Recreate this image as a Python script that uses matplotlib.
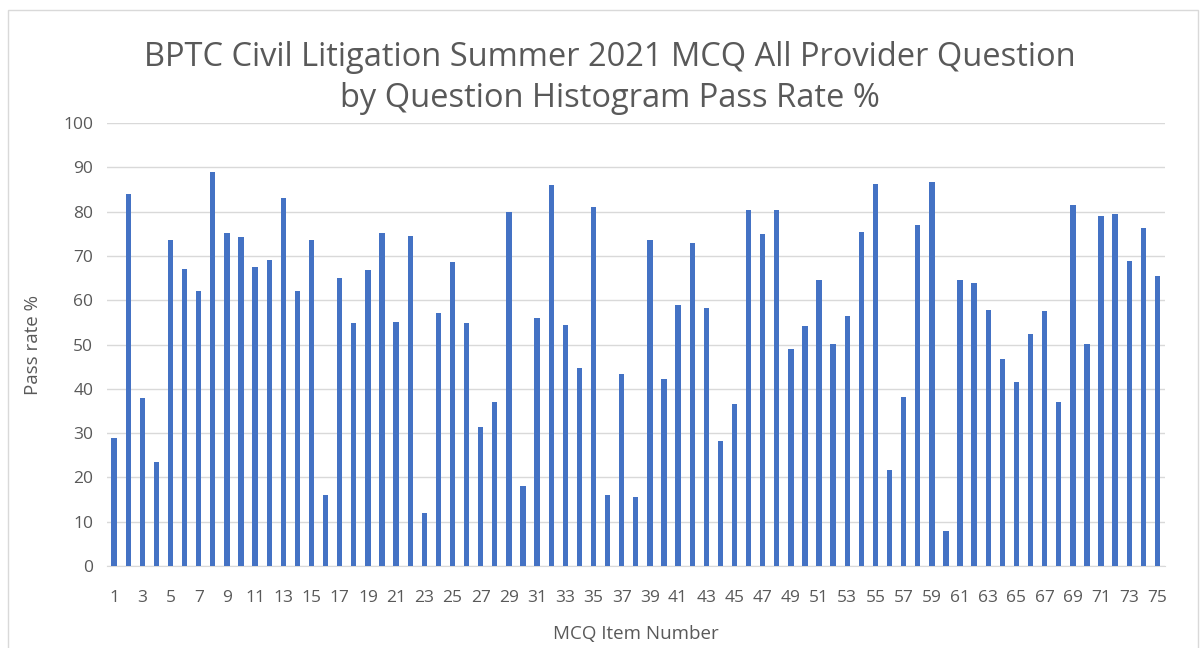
import matplotlib.pyplot as plt
from matplotlib.patches import Rectangle

# pass rate per MCQ item
items = list(range(1, 76))
pass_rate = [29, 84, 38, 23.5, 73.5, 67, 62, 89, 75.3, 74.3,
             67.6, 69.2, 83, 62.2, 73.5, 16, 65, 54.8, 66.8, 75.3,
             55, 74.6, 12, 57.2, 68.6, 54.8, 31.3, 37, 80, 18,
             55.9, 86, 54.4, 44.8, 81, 16, 43.3, 15.6, 73.5, 42.2,
             58.9, 73, 58.3, 28.2, 36.5, 80.3, 74.9, 80.3, 49.1, 54.2,
             64.6, 50.2, 56.5, 75.5, 86.3, 21.6, 38.2, 77, 86.6, 7.8,
             64.6, 64, 57.8, 46.8, 41.5, 52.3, 57.5, 37, 81.5, 50.2,
             79.1, 79.4, 68.8, 76.4, 65.4]
xtick_labels = [str(i) for i in items[::2]]
yticks = list(range(0, 101, 10))

plt.rcParams['font.family'] = ['Open Sans', 'DejaVu Sans']
grey = '#595959'

fig = plt.figure(figsize=(12.03, 6.48), dpi=100)
fig.patches.append(Rectangle((8 / 1203, -0.01), 1190 / 1203, 1 - 10 / 648 + 0.01,
                             transform=fig.transFigure, fill=False,
                             edgecolor='#d9d9d9', lw=1))
ax = fig.add_axes([0.089, 0.1265, 0.879, 0.6835])

ax.bar(items, pass_rate, width=0.38, color='#4472c4', zorder=3)

ax.set_xlim(0.5, 75.5)
ax.set_ylim(0, 100)
ax.set_yticks(yticks)
ax.set_xticks(items[::2])
ax.set_xticklabels(xtick_labels)
ax.grid(axis='y', color='#d9d9d9', lw=1, zorder=0)
ax.tick_params(length=0, labelsize=12.5, colors=grey)
ax.tick_params(axis='x', pad=17)
ax.tick_params(axis='y', pad=10)
for s in ['top', 'right', 'left']:
    ax.spines[s].set_visible(False)
ax.spines['bottom'].set_color('#d9d9d9')

ax.set_xlabel('MCQ Item Number', fontsize=13.5, color=grey, labelpad=14)
ax.set_ylabel('Pass rate %', fontsize=13.5, color=grey, labelpad=15)
fig.text(0.507, 0.880, 'BPTC Civil Litigation Summer 2021 MCQ All Provider Question\nby Question Histogram Pass Rate %',
         ha='center', va='center', fontsize=23.5, color=grey, linespacing=1.3)

fig.savefig('out.png', dpi=100)
